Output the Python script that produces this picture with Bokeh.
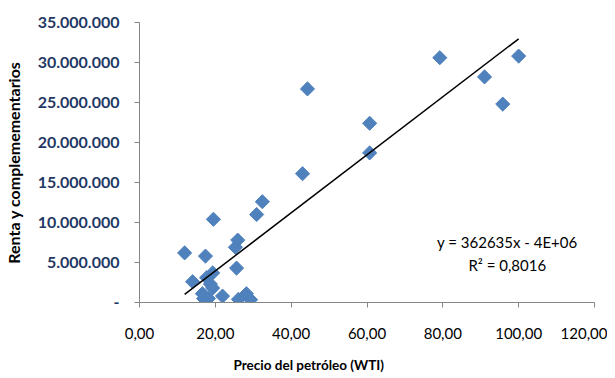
from bokeh.plotting import figure
from bokeh.models import FixedTicker, Range1d, Label, ColumnDataSource, Title
from bokeh.embed import file_html
from bokeh.resources import INLINE

# Data
precio_wti = [11.9, 17.4, 19.5, 25.9, 25.3, 25.6, 14.0, 19.3, 17.7, 18.7,
              19.3, 16.6, 16.9, 18.2, 21.9, 26.1, 28.2, 29.3, 30.9, 32.4,
              43.0, 44.3, 60.7, 60.7, 79.2, 91.0, 95.8, 100.0]
renta = [6.2e6, 5.8e6, 10.4e6, 7.8e6, 6.9e6, 4.3e6, 2.6e6, 3.7e6, 3.1e6, 2.3e6,
         1.8e6, 1.1e6, 0.5e6, 0.5e6, 0.8e6, 0.4e6, 1.1e6, 0.35e6, 11.0e6, 12.6e6,
         16.1e6, 26.7e6, 22.4e6, 18.7e6, 30.6e6, 28.2e6, 24.8e6, 30.8e6]

# Trend line parameters (slope from the chart, intercept estimated)
trend_slope = 362635
trend_intercept = -3.3e6

x_ticks = [0, 20, 40, 60, 80, 100, 120]
x_tick_labels = ["0,00", "20,00", "40,00", "60,00", "80,00", "100,00", "120,00"]
y_ticks = [0, 5e6, 10e6, 15e6, 20e6, 25e6, 30e6, 35e6]
y_tick_labels = ["-", "5.000.000", "10.000.000", "15.000.000", "20.000.000",
                 "25.000.000", "30.000.000", "35.000.000"]

FONT = "Lato"

p = figure(frame_width=455, frame_height=280, output_backend="svg", toolbar_location=None,
           x_range=Range1d(0, 120), y_range=Range1d(0, 35e6),
           min_border_left=131, min_border_right=13, min_border_top=22,
           min_border_bottom=4)
p.outline_line_color = None
p.xgrid.visible = False
p.ygrid.visible = False

p.xaxis.ticker = FixedTicker(ticks=x_ticks)
p.xaxis.major_label_overrides = {t: l for t, l in zip(x_ticks, x_tick_labels)}
p.yaxis.ticker = FixedTicker(ticks=y_ticks)
p.yaxis.major_label_overrides = {t: l for t, l in zip(y_ticks, y_tick_labels)}

for ax in (p.xaxis, p.yaxis):
    ax.axis_line_color = "#868686"
    ax.major_tick_line_color = "#868686"
    ax.minor_tick_line_color = None
    ax.major_tick_in = 0
    ax.major_tick_out = 5
    ax.major_label_text_font = FONT
    ax.axis_label_text_font = FONT
    ax.axis_label_text_font_style = "bold"
    ax.axis_label_text_color = "black"

p.xaxis.major_label_text_font_size = "15px"
p.xaxis.major_label_text_color = "black"
p.xaxis.major_label_standoff = 20

p.yaxis.major_label_text_font_size = "16px"
p.yaxis.major_label_text_font_style = "bold"
p.yaxis.major_label_text_color = "#1F3864"
p.yaxis.major_label_standoff = 15
p.yaxis.axis_label = "Renta y complemementarios"
p.yaxis.axis_label_text_font_size = "16px"
p.yaxis.axis_label_standoff = 12

# x axis title, shifted left so it is centred over the whole chart as in the original
p.add_layout(Title(text="Precio del petróleo (WTI)", align="left", offset=94,
                   text_font=FONT, text_font_size="13.5px", text_font_style="bold",
                   text_color="black", standoff=27), "below")

src = ColumnDataSource(dict(x=precio_wti, y=renta))
p.scatter("x", "y", source=src, marker="square", size=10, angle=0.785398,
          fill_color="#4F81BD", line_color="#4F81BD")

x0, x1 = min(precio_wti), max(precio_wti)
p.line([x0, x1], [trend_slope * x0 + trend_intercept, trend_slope * x1 + trend_intercept],
       line_color="black", line_width=1.5)

p.add_layout(Label(x=97.0, y=7.6e6, text="y = 362635x - 4E+06", text_align="center",
                   text_baseline="middle", text_font=FONT, text_font_size="15px",
                   text_color="black"))
p.add_layout(Label(x=97.0, y=4.7e6, text="R² = 0,8016", text_align="center",
                   text_baseline="middle", text_font=FONT, text_font_size="15px",
                   text_color="black"))

open("out.html", "w").write(file_html(p, INLINE))
